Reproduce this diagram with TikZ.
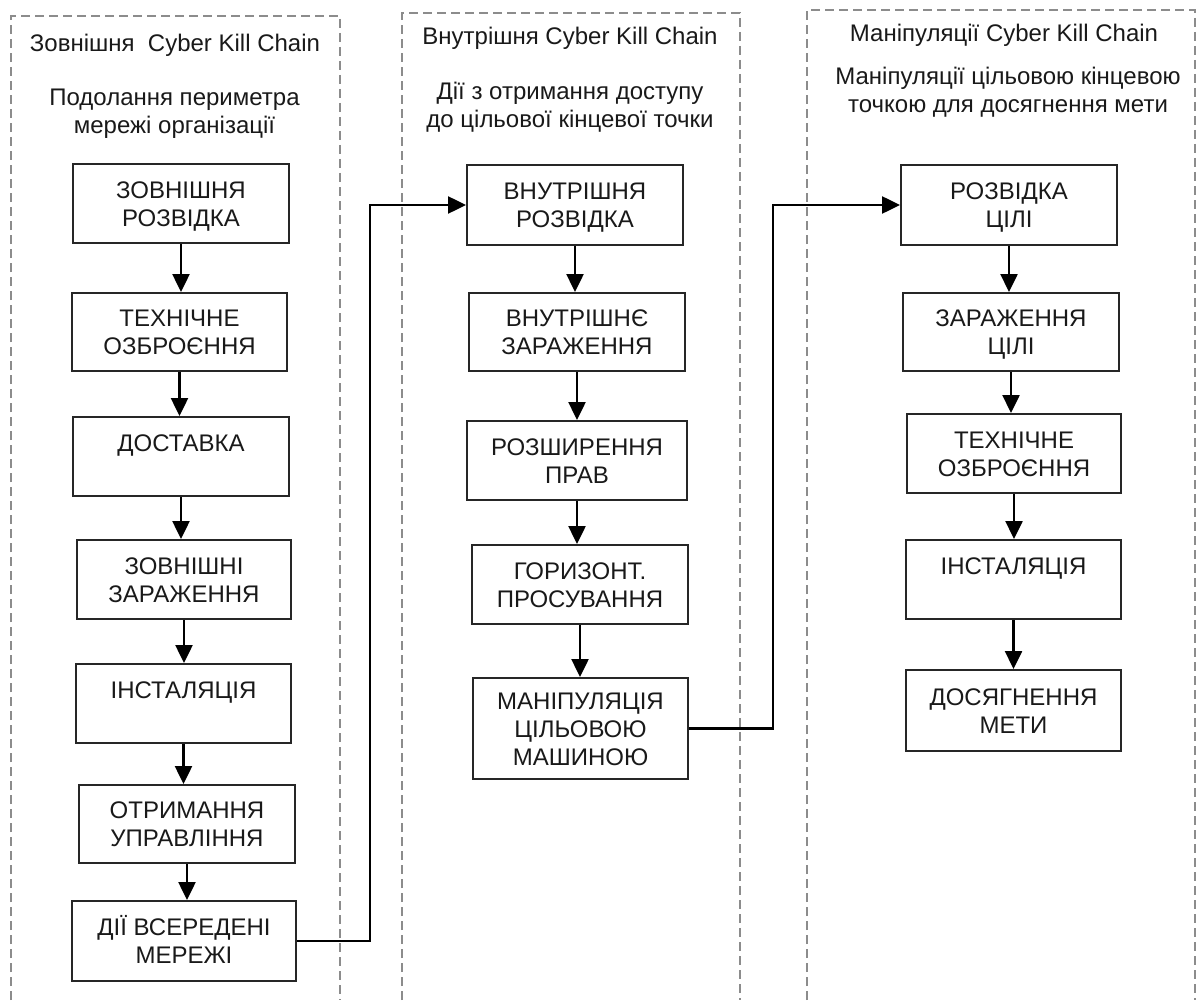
\documentclass[tikz,border=0pt]{standalone}
\usepackage{fontspec}
\setmainfont{Liberation Sans}
\usetikzlibrary{arrows.meta}
% line strut: equal height for every line, so that text blocks centre on their capitals
\newcommand\ls{\rule[-2.7pt]{0pt}{14pt}}

\begin{document}
\begin{tikzpicture}[x=0.5pt,y=-0.5pt,
  frame/.style={draw=black!45, line width=0.8pt, dash pattern=on 4.5pt off 2.5pt},
  stage/.style={draw=black!85, line width=1pt, inner sep=0pt, align=center,
    font=\fontsize{12}{14}\selectfont, text=black!90},
  head/.style={font=\fontsize{12}{14}\selectfont, align=center, inner sep=0pt, text=black!90},
  flow/.style={-{Triangle[length=9pt,width=8.5pt]}, line width=1.25pt, black},
]
\useasboundingbox (0,0) rectangle (1197,1000);

% dashed column frames, open at the bottom
\draw[frame] (11,1000) -- (11,16) -- (340,16) -- (340,1000);
\draw[frame] (402,1000) -- (402,13) -- (740,13) -- (740,1000);
\draw[frame] (807,1000) -- (807,10) -- (1195,10) -- (1195,1000);

% column headings
\node[head, anchor=base] (t1) at (175,52) {Зовнішня\ \ Cyber Kill Chain};
\node[head] (s1) at (174.5,111.4) {\ls Подолання периметра\\\ls мережі організації};
\node[head, anchor=base] (t2) at (570,45) {Внутрішня Cyber Kill Chain};
\node[head] (s2) at (570,105.4) {\ls Дії з отримання доступу\\\ls до цільової кінцевої точки};
\node[head, anchor=base] (t3) at (1004,42) {Маніпуляції Cyber Kill Chain};
\node[head] (s3) at (1008,90.4) {\ls Маніпуляції цільовою кінцевою\\\ls точкою для досягнення мети};

% external chain
\node[stage, minimum width=108pt, minimum height=39.5pt] (b1) at (181,203.5) {\ls ЗОВНІШНЯ\\\ls РОЗВІДКА};
\node[stage, minimum width=107.5pt, minimum height=39pt] (b2) at (179.5,332) {\ls ТЕХНІЧНЕ\\\ls ОЗБРОЄННЯ};
\node[stage, minimum width=108pt, minimum height=39.5pt] (b3) at (181,456.5) {\ls ДОСТАВКА\\\ls};
\node[stage, minimum width=107pt, minimum height=39.5pt] (b4) at (184,579.5) {\ls ЗОВНІШНІ\\\ls ЗАРАЖЕННЯ};
\node[stage, minimum width=107.5pt, minimum height=39.5pt] (b5) at (183.5,703.5) {\ls ІНСТАЛЯЦІЯ\\\ls};
\node[stage, minimum width=108pt, minimum height=39pt] (b6) at (187,824) {\ls ОТРИМАННЯ\\\ls УПРАВЛІННЯ};
\node[stage, minimum width=112pt, minimum height=40pt] (b7) at (184,941) {\ls ДІЇ ВСЕРЕДЕНІ\\\ls МЕРЕЖІ};

% internal chain
\node[stage, minimum width=108pt, minimum height=40pt] (c1) at (575,205) {\ls ВНУТРІШНЯ\\\ls РОЗВІДКА};
\node[stage, minimum width=108pt, minimum height=39pt] (c2) at (577,332) {\ls ВНУТРІШНЄ\\\ls ЗАРАЖЕННЯ};
\node[stage, minimum width=110pt, minimum height=39.5pt] (c3) at (577,460.5) {\ls РОЗШИРЕННЯ\\\ls ПРАВ};
\node[stage, minimum width=108pt, minimum height=39.5pt] (c4) at (580,584.5) {\ls ГОРИЗОНТ.\\\ls ПРОСУВАННЯ};
\node[stage, minimum width=107.5pt, minimum height=50.5pt] (c5) at (580.5,728.5) {\ls МАНІПУЛЯЦІЯ\\\ls ЦІЛЬОВОЮ\\\ls МАШИНОЮ};

% manipulation chain
\node[stage, minimum width=108pt, minimum height=40pt] (d1) at (1009,205) {\ls РОЗВІДКА\\\ls ЦІЛІ};
\node[stage, minimum width=108pt, minimum height=39pt] (d2) at (1011,332) {\ls ЗАРАЖЕННЯ\\\ls ЦІЛІ};
\node[stage, minimum width=107pt, minimum height=39.5pt] (d3) at (1014,453.5) {\ls ТЕХНІЧНЕ\\\ls ОЗБРОЄННЯ};
\node[stage, minimum width=107.5pt, minimum height=39.5pt] (d4) at (1013.5,579.5) {\ls ІНСТАЛЯЦІЯ\\\ls};
\node[stage, minimum width=107.5pt, minimum height=40.5pt] (d5) at (1013.5,710.5) {\ls ДОСЯГНЕННЯ\\\ls МЕТИ};

% steps within each chain
\foreach \u/\v in {b1/b2,b2/b3,b3/b4,b4/b5,b5/b6,b6/b7,
                   c1/c2,c2/c3,c3/c4,c4/c5,
                   d1/d2,d2/d3,d3/d4,d4/d5}
  \draw[flow] (\u.south) -- (\u.south |- \v.north);

% hand-over between chains
\coordinate (k1) at (370,0);
\coordinate (k2) at (773,0);
\draw[flow] (b7.east) -- (b7.east -| k1) |- (c1.west);
\draw[flow] (c5.east) -- (c5.east -| k2) |- (d1.west);
\end{tikzpicture}
\end{document}
